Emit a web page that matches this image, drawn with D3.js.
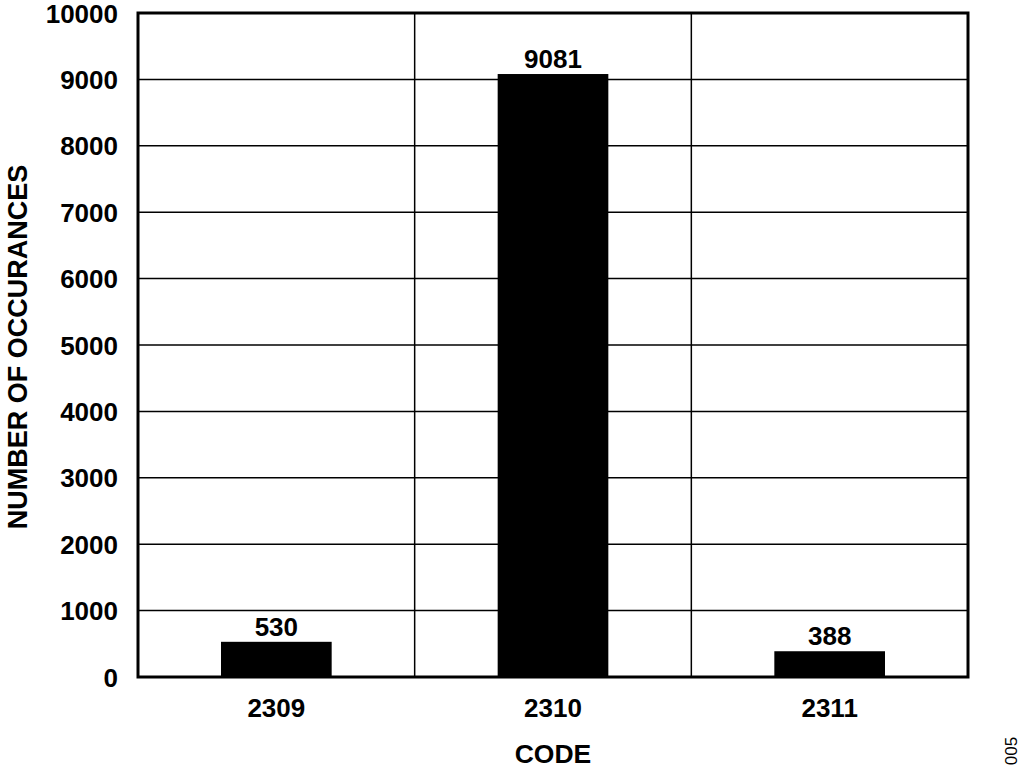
<!DOCTYPE html>
<html>
<head>
<meta charset="utf-8">
<script src="https://cdn.jsdelivr.net/npm/d3@7"></script>
<style>
    body { margin: 0; background: #fff; }
    text { font-family: "Liberation Sans", Arial, sans-serif; font-weight: bold; fill: #000; }
</style>
</head>
<body>
<div id="chart"></div>
<script>
// chart data
var codes = ["2309", "2310", "2311"];
var occurrences = [530, 9081, 388];
var yTicks = [0, 1000, 2000, 3000, 4000, 5000, 6000, 7000, 8000, 9000, 10000];

function init() {
    var w = 1024;
    var h = 775;
    var left = 138, right = 968, top = 13, bottom = 677;

    var svg = d3.select("#chart")
        .append("svg")
        .attr("width", w)
        .attr("height", h);

    var xScale = d3.scaleBand()
        .domain(codes)
        .range([left, right])
        .paddingInner(0.6)
        .paddingOuter(0.3);

    var yScale = d3.scaleLinear()
        .domain([0, 10000])
        .range([bottom, top]);

    var step = xScale.step();
    var gap = step - xScale.bandwidth();

    // horizontal grid lines
    svg.append("g")
        .selectAll("line")
        .data(yTicks.slice(1, -1))
        .enter()
        .append("line")
        .attr("x1", left)
        .attr("x2", right)
        .attr("y1", d => yScale(d))
        .attr("y2", d => yScale(d))
        .attr("stroke", "#000")
        .attr("stroke-width", 1.5);

    // vertical grid lines between categories
    svg.append("g")
        .selectAll("line")
        .data(codes.slice(0, -1))
        .enter()
        .append("line")
        .attr("x1", d => xScale(d) + xScale.bandwidth() + gap / 2)
        .attr("x2", d => xScale(d) + xScale.bandwidth() + gap / 2)
        .attr("y1", top)
        .attr("y2", bottom)
        .attr("stroke", "#000")
        .attr("stroke-width", 1.5);

    // bars
    svg.selectAll("rect.bar")
        .data(codes)
        .enter()
        .append("rect")
        .attr("class", "bar")
        .attr("x", d => xScale(d))
        .attr("y", (d, i) => yScale(occurrences[i]))
        .attr("width", xScale.bandwidth())
        .attr("height", (d, i) => bottom - yScale(occurrences[i]))
        .attr("fill", "#000");

    // value labels
    svg.selectAll("text.value")
        .data(codes)
        .enter()
        .append("text")
        .attr("class", "value")
        .attr("x", d => xScale(d) + xScale.bandwidth() / 2)
        .attr("y", (d, i) => yScale(occurrences[i]) - 6)
        .attr("text-anchor", "middle")
        .style("font-size", "26px")
        .text((d, i) => occurrences[i]);

    // frame
    svg.append("rect")
        .attr("x", left)
        .attr("y", top)
        .attr("width", right - left)
        .attr("height", bottom - top)
        .attr("fill", "none")
        .attr("stroke", "#000")
        .attr("stroke-width", 3);

    // y tick labels
    svg.append("g")
        .selectAll("text")
        .data(yTicks)
        .enter()
        .append("text")
        .attr("x", left - 20)
        .attr("y", d => yScale(d) + 9.5)
        .attr("text-anchor", "end")
        .style("font-size", "26px")
        .text(d => d);

    // x tick labels
    svg.append("g")
        .selectAll("text")
        .data(codes)
        .enter()
        .append("text")
        .attr("x", d => xScale(d) + xScale.bandwidth() / 2)
        .attr("y", 717)
        .attr("text-anchor", "middle")
        .style("font-size", "26px")
        .text(d => d);

    // axis titles
    svg.append("text")
        .attr("x", (left + right) / 2)
        .attr("y", 763)
        .attr("text-anchor", "middle")
        .style("font-size", "26.5px")
        .text("CODE");

    svg.append("text")
        .attr("transform", "translate(27," + 347 + ") rotate(-90)")
        .attr("text-anchor", "middle")
        .style("font-size", "27px")
        .text("NUMBER OF OCCURANCES");

    // figure number
    svg.append("text")
        .attr("transform", "translate(1017,751) rotate(-90)")
        .attr("text-anchor", "middle")
        .style("font-size", "17px")
        .style("font-weight", "normal")
        .text("005");
}

window.onload = init;
</script>
</body>
</html>
